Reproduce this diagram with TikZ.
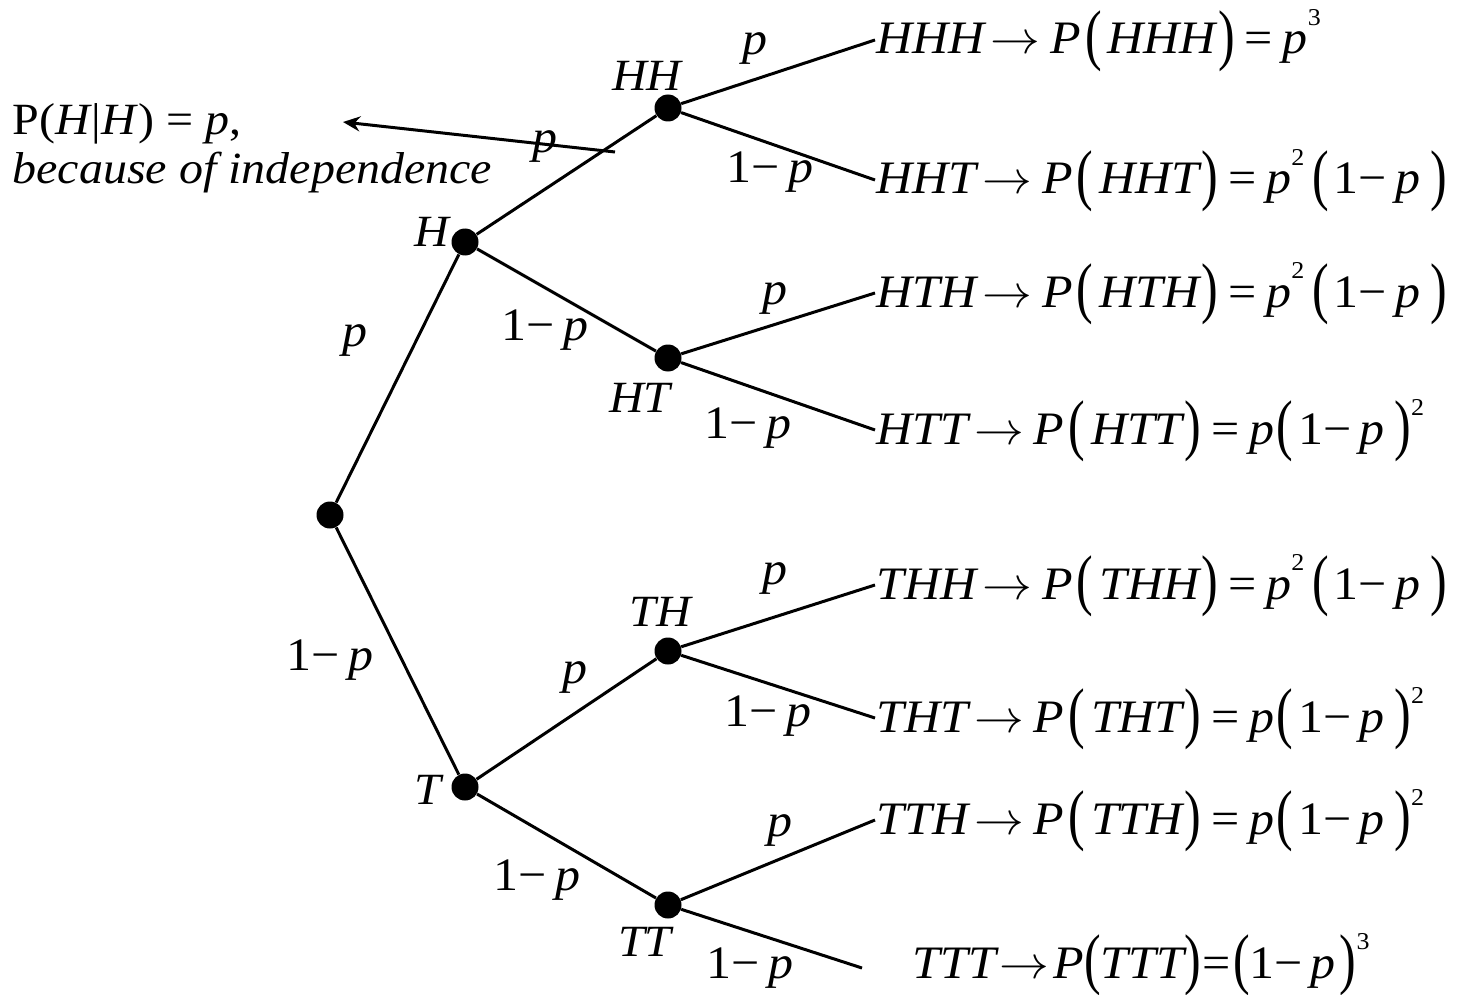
\documentclass[tikz,border=0pt]{standalone}
\usepackage{fontspec}
\setmainfont{Liberation Serif}
\usepackage{graphicx}
\usetikzlibrary{arrows.meta}
\newcommand{\sq}[1]{\scalebox{1}[0.93]{#1}}
\newcommand{\bigp}[1]{\raisebox{-0.07em}{\scalebox{1}[1.45]{\upshape #1}}}
\newcommand{\Lp}{\hspace{2pt}\bigp{(}\hspace{3pt}}
\newcommand{\Rp}{\hspace{1pt}\bigp{)}}
\newcommand{\eq}{\hspace{5pt}\textup{=}\hspace{5pt}}
\newcommand{\arr}{\hspace{3pt}$\rightarrow$\hspace{5pt}}
\newcommand{\omq}{\bigp{(}\hspace{2.5pt}\textup{1−}\hspace{4pt}p\hspace{5pt}\bigp{)}}
\newcommand{\sups}[1]{\raisebox{0.62em}{\fontsize{13}{13}\selectfont\upshape #1}}
\newcommand{\omp}{\textup{1−}\hspace{4pt}\textit{p}}
\begin{document}
\begin{tikzpicture}[x=0.5pt,y=-0.5pt,
  dot/.style={circle,fill=black,inner sep=0pt,minimum size=13.5pt},
  branch/.style={line width=1.5pt},
  lbl/.style={inner sep=0pt,font=\fontsize{25}{28}\selectfont\itshape},
  nlbl/.style={inner sep=0pt,font=\fontsize{24}{28}\selectfont\itshape},
  leaf/.style={inner sep=0pt,anchor=base west,font=\fontsize{25}{28}\selectfont\itshape},
  ann/.style={inner sep=0pt,anchor=base west,font=\fontsize{24}{28}\selectfont\itshape}]
\useasboundingbox (0,0) rectangle (1474,995);
% dots
\node[dot] (root) at (330,515) {};
\node[dot] (H) at (465,242) {};
\node[dot] (T) at (465,787) {};
\node[dot] (HH) at (668,108) {};
\node[dot] (HT) at (668,358) {};
\node[dot] (TH) at (668,651) {};
\node[dot] (TT) at (668,905) {};
% leaf ends
\coordinate (eHHH) at (875,40);
\coordinate (eHHT) at (875,180);
\coordinate (eHTH) at (875,293);
\coordinate (eHTT) at (875,430);
\coordinate (eTHH) at (875,585);
\coordinate (eTHT) at (875,718);
\coordinate (eTTH) at (875,820);
\coordinate (eTTT) at (862,968);
% branches
\draw[branch] (root) -- (H);
\draw[branch] (root) -- (T);
\draw[branch] (H) -- (HH);
\draw[branch] (H) -- (HT);
\draw[branch] (T) -- (TH);
\draw[branch] (T) -- (TT);
\draw[branch] (HH) -- (eHHH);
\draw[branch] (HH) -- (eHHT);
\draw[branch] (HT) -- (eHTH);
\draw[branch] (HT) -- (eHTT);
\draw[branch] (TH) -- (eTHH);
\draw[branch] (TH) -- (eTHT);
\draw[branch] (TT) -- (eTTH);
\draw[branch] (TT) -- (eTTT);
% node labels
\node[nlbl] (lH) at (432,232) {\sq{H}};
\node[nlbl] (lHH) at (647,76) {\sq{HH}};
\node[nlbl] (lHT) at (640,398) {\sq{HT}};
\node[nlbl] (lTH) at (660,612) {\sq{TH}};
\node[nlbl] (lT) at (428,790) {\sq{T}};
\node[nlbl] (lTT) at (645,942) {\sq{TT}};
% branch labels
\node[lbl] (b1) at (355,340) {\sq{p}};
\node[lbl] (b2) at (330,660) {\sq{\omp}};
\node[lbl] (b3) at (545,146) {\sq{p}};
\node[lbl] (b4) at (545,330) {\sq{\omp}};
\node[lbl] (b5) at (575,677) {\sq{p}};
\node[lbl] (b6) at (537,880) {\sq{\omp}};
\node[lbl] (b7) at (755,48) {\sq{p}};
\node[lbl] (b8) at (770,172) {\sq{\omp}};
\node[lbl] (b9) at (775,298) {\sq{p}};
\node[lbl] (b10) at (748,428) {\sq{\omp}};
\node[lbl] (b11) at (775,578) {\sq{p}};
\node[lbl] (b12) at (768,716) {\sq{\omp}};
\node[lbl] (b13) at (780,830) {\sq{p}};
\node[lbl] (b14) at (750,968) {\sq{\omp}};
% leaf formulas
\node[leaf] (tHHH) at (876,54) {\sq{HHH\arr P\Lp HHH\Rp\eq p\sups{3}}};
\node[leaf] (tHHT) at (876,194) {\sq{HHT\arr P\Lp HHT\Rp\eq p\sups{2}\hspace{4pt}\omq}};
\node[leaf] (tHTH) at (876,307) {\sq{HTH\arr P\Lp HTH\Rp\eq p\sups{2}\hspace{4pt}\omq}};
\node[leaf] (tHTT) at (876,444) {\sq{HTT\arr P\Lp HTT\Rp\eq p\hspace{1pt}\omq\sups{2}}};
\node[leaf] (tTHH) at (876,599) {\sq{THH\arr P\Lp THH\Rp\eq p\sups{2}\hspace{4pt}\omq}};
\node[leaf] (tTHT) at (876,732) {\sq{THT\arr P\Lp THT\Rp\eq p\hspace{1pt}\omq\sups{2}}};
\node[leaf] (tTTH) at (876,834) {\sq{TTH\arr P\Lp TTH\Rp\eq p\hspace{1pt}\omq\sups{2}}};
\node[leaf] (tTTT) at (912,978) {\sq{TTT\hspace{2pt}$\rightarrow$\hspace{2pt}P\bigp{(}TTT\bigp{)}\hspace{1pt}\textup{=}\hspace{1pt}\bigp{(}\textup{1−}\hspace{4pt}p\hspace{2pt}\bigp{)}\sups{3}}};
% annotation
\node[ann] (ann1) at (12,134) {\sq{\textup{P(}H\textup{|}H\textup{) = }p\textup{,}}};
\node[ann] (ann2) at (12,184) {\sq{because of independence}};
\coordinate (arrS) at (615,152);
\coordinate (arrE) at (343,122);
\draw[line width=1.5pt,-{Stealth[length=8.5pt,width=7.5pt]}] (arrS) -- (arrE);
\end{tikzpicture}
\end{document}
